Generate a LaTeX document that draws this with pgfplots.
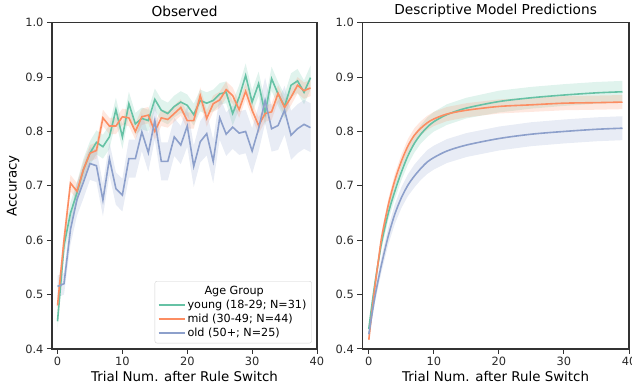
\documentclass[border=0pt]{standalone}
\usepackage{pgfplots}
\pgfplotsset{compat=1.18}
\usepackage{pgfplotstable}
\usepgfplotslibrary{fillbetween}
\usepackage{fontspec}
\setmainfont{DejaVu Sans}
\definecolor{cg}{HTML}{66C2A5}
\definecolor{co}{HTML}{FC8D62}
\definecolor{cb}{HTML}{8DA0CB}
\definecolor{axgray}{HTML}{333333}

\pgfplotstableread{
t m e
0 0.451 0.015
1 0.590 0.020
2 0.650 0.020
3 0.687 0.020
4 0.730 0.020
5 0.760 0.022
6 0.780 0.022
7 0.772 0.022
8 0.790 0.022
9 0.840 0.022
10 0.790 0.022
11 0.851 0.022
12 0.814 0.020
13 0.824 0.020
14 0.820 0.020
15 0.859 0.020
16 0.839 0.020
17 0.833 0.020
18 0.846 0.020
19 0.854 0.020
20 0.848 0.020
21 0.831 0.020
22 0.857 0.020
23 0.852 0.020
24 0.857 0.020
25 0.869 0.020
26 0.872 0.020
27 0.833 0.022
28 0.863 0.022
29 0.903 0.022
30 0.854 0.022
31 0.888 0.022
32 0.833 0.022
33 0.897 0.022
34 0.869 0.022
35 0.846 0.022
36 0.885 0.022
37 0.893 0.022
38 0.872 0.022
39 0.899 0.022
}\obsY

\pgfplotstableread{
t m e
0 0.480 0.020
1 0.600 0.018
2 0.705 0.015
3 0.690 0.015
4 0.730 0.015
5 0.760 0.015
6 0.765 0.015
7 0.825 0.015
8 0.810 0.015
9 0.810 0.015
10 0.827 0.015
11 0.825 0.015
12 0.800 0.015
13 0.827 0.015
14 0.830 0.015
15 0.800 0.015
16 0.825 0.015
17 0.822 0.015
18 0.833 0.015
19 0.844 0.015
20 0.820 0.015
21 0.820 0.015
22 0.866 0.015
23 0.824 0.015
24 0.851 0.015
25 0.858 0.015
26 0.877 0.015
27 0.866 0.015
28 0.840 0.015
29 0.874 0.015
30 0.839 0.015
31 0.811 0.015
32 0.833 0.015
33 0.836 0.015
34 0.870 0.015
35 0.844 0.015
36 0.863 0.015
37 0.885 0.015
38 0.875 0.015
39 0.880 0.015
}\obsM

\pgfplotstableread{
t m e
0 0.515 0.020
1 0.520 0.020
2 0.620 0.028
3 0.675 0.030
4 0.707 0.030
5 0.741 0.030
6 0.737 0.030
7 0.674 0.030
8 0.750 0.030
9 0.695 0.030
10 0.683 0.030
11 0.750 0.035
12 0.750 0.035
13 0.799 0.035
14 0.761 0.035
15 0.820 0.035
16 0.745 0.035
17 0.745 0.035
18 0.790 0.035
19 0.775 0.035
20 0.810 0.038
21 0.736 0.038
22 0.781 0.038
23 0.796 0.040
24 0.745 0.040
25 0.825 0.040
26 0.795 0.040
27 0.808 0.040
28 0.797 0.040
29 0.800 0.040
30 0.764 0.042
31 0.805 0.042
32 0.857 0.042
33 0.805 0.042
34 0.811 0.045
35 0.839 0.045
36 0.793 0.045
37 0.805 0.045
38 0.813 0.045
39 0.807 0.045
}\obsO

\pgfplotstableread{
t m e
0 0.437 0.008
0.5 0.483 0.009
1 0.525 0.010
1.5 0.563 0.011
2 0.598 0.012
3 0.650 0.013
4 0.690 0.014
5 0.725 0.015
6 0.755 0.016
7 0.778 0.017
8 0.795 0.017
9 0.808 0.018
10 0.818 0.018
12 0.831 0.019
15 0.843 0.019
20 0.855 0.020
25 0.862 0.020
30 0.867 0.020
35 0.871 0.020
39 0.873 0.020
}\modY

\pgfplotstableread{
t m e
0 0.417 0.006
0.5 0.470 0.007
1 0.520 0.008
1.5 0.565 0.009
2 0.607 0.010
3 0.665 0.011
4 0.710 0.012
5 0.745 0.012
6 0.773 0.013
7 0.793 0.013
8 0.806 0.013
9 0.816 0.013
10 0.823 0.013
12 0.832 0.013
15 0.839 0.013
20 0.846 0.013
25 0.849 0.013
30 0.852 0.013
35 0.853 0.013
39 0.854 0.013
}\modM

\pgfplotstableread{
t m e
0 0.427 0.010
0.5 0.465 0.011
1 0.500 0.012
1.5 0.530 0.013
2 0.558 0.014
3 0.608 0.016
4 0.648 0.018
5 0.678 0.019
6 0.701 0.020
7 0.718 0.021
8 0.732 0.021
9 0.744 0.022
10 0.752 0.022
12 0.764 0.022
15 0.775 0.022
20 0.787 0.022
25 0.795 0.022
30 0.800 0.022
35 0.804 0.022
39 0.806 0.022
}\modO

\newcommand{\band}[3]{%
  \addplot[name path=#3up, draw=none, forget plot] table[x=t, y expr=\thisrow{m}+\thisrow{e}]{#1};
  \addplot[name path=#3dn, draw=none, forget plot] table[x=t, y expr=\thisrow{m}-\thisrow{e}]{#1};
  \addplot[fill=#2, fill opacity=0.2, draw=none, forget plot] fill between[of=#3up and #3dn];
}

\pgfplotsset{
  myax/.style={
    scale only axis, height=326.3pt,
    xmax=40, ymin=0.4, ymax=1.0,
    xtick={0,10,20,30,40},
    ytick={0.4,0.5,0.6,0.7,0.8,0.9,1.0},
    tick align=outside, tick pos=left,
    major tick length=5pt,
    tick style={axgray, line width=1pt},
    axis line style={axgray, line width=1.1pt},
    /pgf/number format/assume math mode=true,
    yticklabel style={/pgf/number format/.cd, fixed, fixed zerofill, precision=1},
    ticklabel style={font=\fontsize{11.4}{13}\selectfont, text=axgray!80!black},
    label style={font=\fontsize{13.4}{16}\selectfont},
    title style={font=\fontsize{13.7}{16}\selectfont, yshift=-4pt},
    xlabel={Trial Num. after Rule Switch},
    xlabel style={yshift=2pt},
  }
}

\begin{document}
\begin{tikzpicture}
\begin{axis}[myax, at={(0pt,0pt)}, width=265pt, xmin=-0.85,
  title={Observed}, ylabel={Accuracy}, ylabel style={yshift=-1pt},
  legend style={at={(0.98,0.0175)}, anchor=south east, draw=gray!35,
    rounded corners=2pt, fill=white, fill opacity=0.8, text opacity=1,
    font=\fontsize{11.2}{13}\selectfont, cells={anchor=west}, row sep=0pt,
    inner sep=3pt},
  legend image code/.code={\draw[mark repeat=2,mark phase=2] plot coordinates {(0pt,0pt) (13pt,0pt) (26pt,0pt)};}]
  \band{\obsY}{cg}{oy}
  \addplot[cg, line width=1.6pt, forget plot] table[x=t, y=m]{\obsY};
  \band{\obsM}{co}{om}
  \addplot[co, line width=1.6pt, forget plot] table[x=t, y=m]{\obsM};
  \band{\obsO}{cb}{oo}
  \addplot[cb, line width=1.6pt, forget plot] table[x=t, y=m]{\obsO};
  \addlegendimage{empty legend}
  \addlegendentry{\hspace*{17pt}Age Group}
  \addlegendimage{cg, line width=1.6pt}
  \addlegendentry{young (18-29; N=31)}
  \addlegendimage{co, line width=1.6pt}
  \addlegendentry{mid (30-49; N=44)}
  \addlegendimage{cb, line width=1.6pt}
  \addlegendentry{old (50+; N=25)}
\end{axis}
\begin{axis}[myax, at={(310.3pt,0pt)}, width=266.7pt, xmin=-1,
  title={Descriptive Model Predictions}]
  \band{\modY}{cg}{my}
  \addplot[cg, line width=1.6pt, smooth] table[x=t, y=m]{\modY};
  \band{\modM}{co}{mm}
  \addplot[co, line width=1.6pt, smooth] table[x=t, y=m]{\modM};
  \band{\modO}{cb}{mo}
  \addplot[cb, line width=1.6pt, smooth] table[x=t, y=m]{\modO};
\end{axis}
\pgfresetboundingbox
\path[use as bounding box] (-52pt,-41pt) rectangle (580pt,349pt);
\end{tikzpicture}
\end{document}
